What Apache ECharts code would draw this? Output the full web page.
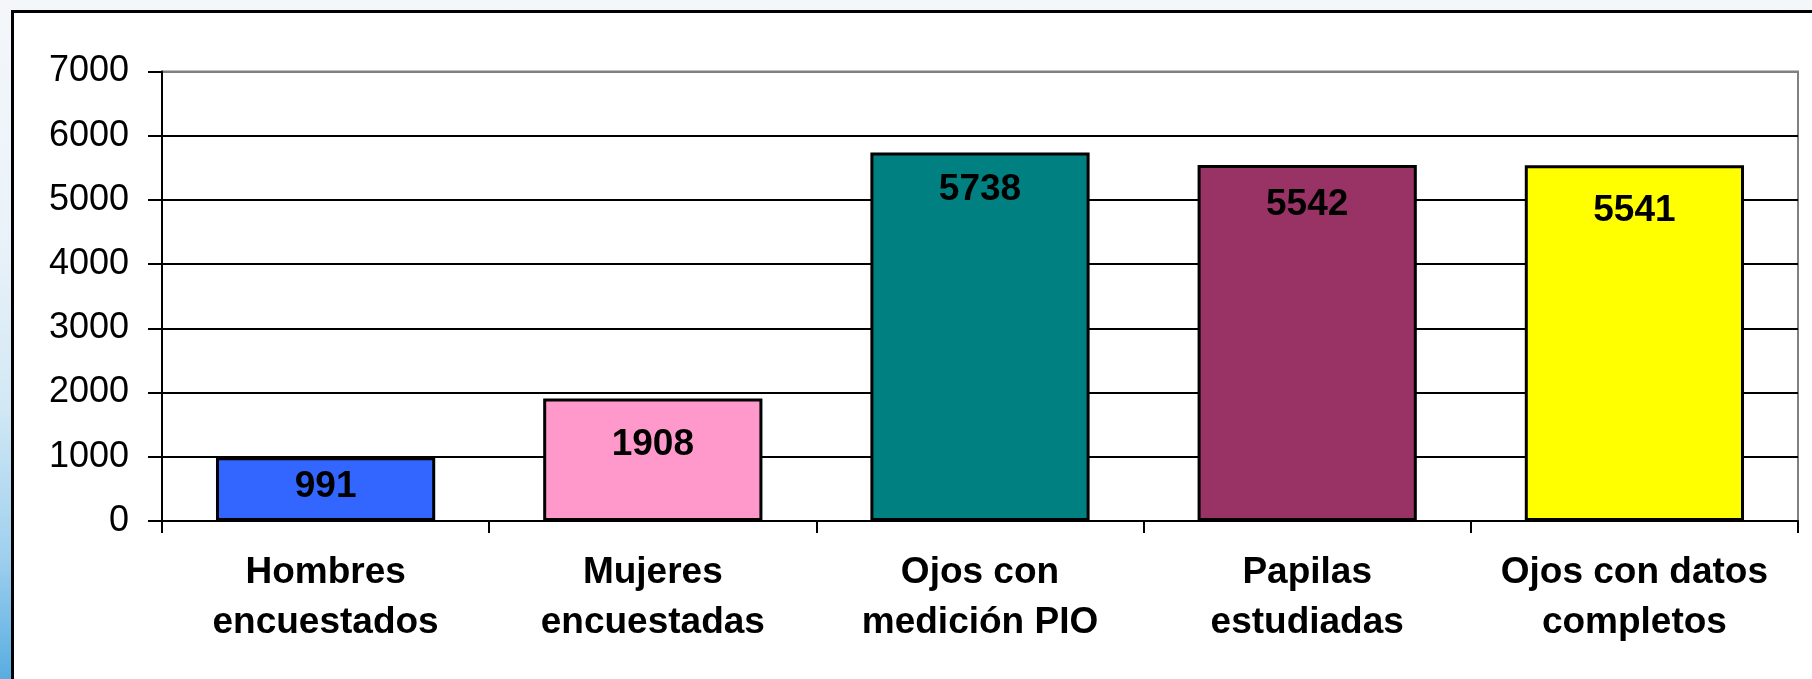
<!DOCTYPE html>
<html>
<head>
<meta charset="utf-8">
<script src="https://cdn.jsdelivr.net/npm/echarts@6/dist/echarts.min.js"></script>
<style>
    html, body {
        margin: 0;
        padding: 0;
        width: 1812px;
        height: 679px;
        overflow: hidden;
    }
    /* fondo de la diapositiva */
    #slide {
        position: absolute;
        left: 0;
        top: 0;
        width: 1812px;
        height: 679px;
        background: linear-gradient(to bottom, #f4f7fa 0%, #eaf2f9 35%, #d2e8f5 60%, #9fd0ee 82%, #58ade0 100%);
    }
    /* marco negro del gráfico */
    #frame {
        position: absolute;
        left: 11px;
        top: 10px;
        width: 1820px;
        height: 700px;
        background: #ffffff;
        border: 3px solid #000000;
    }
    #chart {
        position: absolute;
        left: 0;
        top: 0;
        width: 1812px;
        height: 679px;
    }
</style>
</head>
<body>
<div id="slide"></div>
<div id="frame"></div>
<div id="chart"></div>
<script>
// Datos del gráfico
const categorias = [
    'Hombres\nencuestados',
    'Mujeres\nencuestadas',
    'Ojos con\nmedición PIO',
    'Papilas\nestudiadas',
    'Ojos con datos\ncompletos'
];
const valores = [991, 1908, 5738, 5542, 5541];
const coloresBarras = ['#3366ff', '#ff99cc', '#008080', '#993366', '#ffff00'];
const ticksY = [0, 1000, 2000, 3000, 4000, 5000, 6000, 7000];

// desplazamiento vertical de cada etiqueta dentro de la barra (como en el original)
const bajadaEtiqueta = [11, 28, 19, 21, 27];

const fuente = '"Liberation Sans", Arial, sans-serif';

document.addEventListener('DOMContentLoaded', function() {
    const chartDom = document.getElementById('chart');
    const myChart = echarts.init(chartDom);

    // color de cada línea de división: la superior es el borde gris del área
    const coloresDivision = ticksY.map((t, i) => i === ticksY.length - 1 ? '#808080' : '#000000');

    const option = {
        animation: false,
        backgroundColor: 'transparent',
        grid: {
            left: 162,
            right: 14,
            top: 71.5,
            bottom: 158,
            show: true,
            backgroundColor: 'transparent',
            borderColor: '#808080',
            borderWidth: 2
        },
        xAxis: {
            type: 'category',
            data: categorias,
            axisLine: {
                show: true,
                lineStyle: { color: '#000000', width: 2 }
            },
            axisTick: {
                show: true,
                length: 12,
                lineStyle: { color: '#000000', width: 2 }
            },
            axisLabel: {
                interval: 0,
                margin: 27,
                color: '#000000',
                fontFamily: fuente,
                fontWeight: 'bold',
                fontSize: 37,
                lineHeight: 50
            }
        },
        yAxis: {
            type: 'value',
            min: ticksY[0],
            max: ticksY[ticksY.length - 1],
            interval: 1000,
            axisLine: {
                show: true,
                lineStyle: { color: '#000000', width: 2 }
            },
            axisTick: {
                show: true,
                length: 14,
                lineStyle: { color: '#000000', width: 2 }
            },
            axisLabel: {
                margin: 33,
                color: '#000000',
                fontFamily: fuente,
                fontSize: 36,
                formatter: function(v) { return String(v); }
            },
            splitLine: {
                show: true,
                lineStyle: { color: coloresDivision, width: 2 }
            }
        },
        series: [
            {
                type: 'bar',
                barCategoryGap: '33%',
                data: valores.map((v, i) => ({
                    value: v,
                    itemStyle: { color: coloresBarras[i] },
                    label: { offset: [0, bajadaEtiqueta[i]] }
                })),
                itemStyle: {
                    borderColor: '#000000',
                    borderWidth: 3
                },
                label: {
                    show: true,
                    position: 'insideTop',
                    distance: 0,
                    color: '#000000',
                    fontFamily: fuente,
                    fontWeight: 'bold',
                    fontSize: 37
                }
            }
        ]
    };
    myChart.setOption(option);
});
</script>
</body>
</html>
